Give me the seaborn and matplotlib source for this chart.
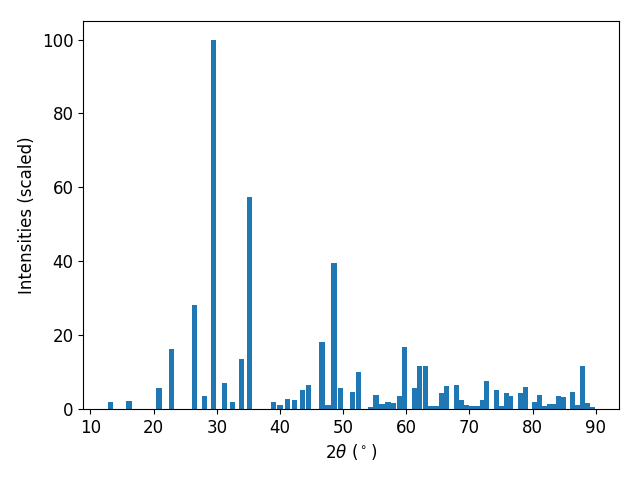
import seaborn as sns
import matplotlib.pyplot as plt

# peak positions (2theta, degrees) and scaled intensities
two_theta = [13.1, 16.1, 20.85, 22.8, 26.4, 28.0, 29.5, 31.15, 32.45, 33.85,
             35.1, 38.9, 40.0, 41.25, 42.35, 43.5, 44.45, 46.65, 47.6, 48.55,
             49.65, 51.55, 52.5, 54.3, 55.2, 56.15, 57.1, 57.9, 58.85, 59.65,
             61.35, 62.15, 63.1, 63.9, 64.7, 65.5, 66.4, 68.0, 68.8, 69.6,
             70.4, 71.2, 72.0, 72.75, 74.35, 75.1, 75.8, 76.55, 78.15, 78.9,
             80.35, 81.15, 81.95, 82.7, 83.4, 84.1, 84.9, 86.35, 87.15, 87.95,
             88.65, 89.4]
intensity = [2.0, 2.2, 5.8, 16.3, 28.2, 3.6, 100.0, 6.9, 2.0, 13.6,
             57.5, 2.0, 1.2, 2.8, 2.3, 5.0, 6.6, 18.2, 1.2, 39.6,
             5.8, 4.7, 10.1, 0.4, 3.9, 1.45, 2.0, 1.7, 3.6, 16.9,
             5.8, 11.5, 11.7, 0.9, 0.9, 4.4, 6.3, 6.6, 2.5, 1.2,
             0.9, 0.9, 2.3, 7.7, 5.0, 0.9, 4.4, 3.6, 4.2, 6.0,
             2.0, 3.9, 0.9, 1.45, 1.45, 3.6, 3.3, 4.7, 1.2, 11.5,
             1.7, 0.4]

plt.rcParams["font.size"] = 12
color = sns.color_palette("tab10")[0]

fig, ax = plt.subplots(figsize=(6.4, 4.8), dpi=100)
ax.bar(two_theta, intensity, width=0.8, color=color)

ax.set_xlabel(r"2$\theta$ ($^\circ$)")
ax.set_ylabel("Intensities (scaled)")

fig.subplots_adjust(left=0.13, right=0.967, top=0.956, bottom=0.148)
plt.savefig("out.png")
